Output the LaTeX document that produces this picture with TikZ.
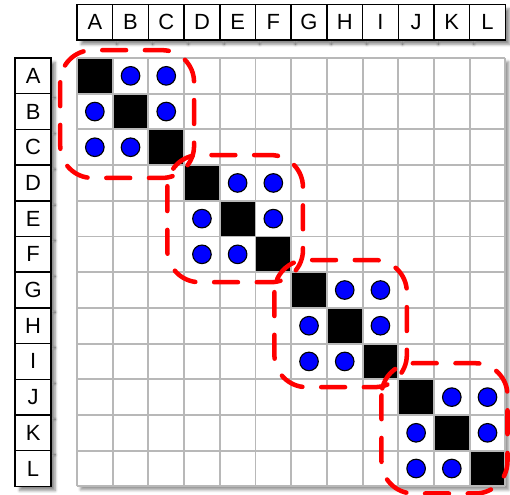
\documentclass[tikz,border=0pt]{standalone}
\usepackage{fontspec}
\setmainfont{Liberation Sans}
\usetikzlibrary{positioning,shadows.blur}

\begin{document}
\begin{tikzpicture}[
  x=1cm, y=-1cm,
  header/.style={draw, line width=1.2pt, fill=white, minimum size=1cm, inner sep=0pt,
    font=\fontsize{17.5}{19}\selectfont,
    blur shadow={shadow xshift=1.2mm, shadow yshift=-1.2mm, shadow blur steps=6, shadow opacity=45}},
  grid line/.style={draw=black!28, line width=1.5pt},
  self cell/.style={fill=black},
  dot/.style={circle, draw=black, line width=0.9pt, fill=blue, minimum size=0.52cm, inner sep=0pt},
  block outline/.style={draw=red, line width=3.6pt, rounded corners=0.9cm, dash pattern=on 19pt off 15pt, line cap=round}
]
  \useasboundingbox (-2.157,-1.625) rectangle (12.13,12.24);

  % headers
  \foreach \name [count=\i from 0] in {A,B,C,D,E,F,G,H,I,J,K,L} {
    \node[header] (col-\name) at (\i+0.5,-1) {\name};
    \node[header] (row-\name) at (-1.23,\i+0.5) {\name};
  }

  % matrix
  \fill[white, blur shadow={shadow xshift=1mm, shadow yshift=-1mm, shadow opacity=40}] (0,0) rectangle (12,12);
  \foreach \i in {0,...,11}
    \fill[self cell] (\i,\i) rectangle ++(1,1);
  \draw[grid line] (0,0) grid (12,12);

  % links inside each block
  \foreach \k in {0,...,3}
    \foreach \r in {0,1,2}
      \foreach \c in {0,1,2} {
        \ifnum\r=\c\else
          \pgfmathtruncatemacro{\row}{3*\k+\r}
          \pgfmathtruncatemacro{\col}{3*\k+\c}
          \node[dot] (dot-\row-\col) at (\col+0.5,\row+0.5) {};
        \fi
      }

  % clusters
  \foreach \k/\t/\rr/\b in {0/0.22/0.28/0.36, 1/0.28/0.33/0.28, 2/0.34/0.24/0.22, 3/0.45/0.06/0.2}
    \draw[block outline] ({3*\k-0.47},{3*\k-\t}) rectangle ({3*\k+3+\rr},{3*\k+3+\b});
\end{tikzpicture}
\end{document}
